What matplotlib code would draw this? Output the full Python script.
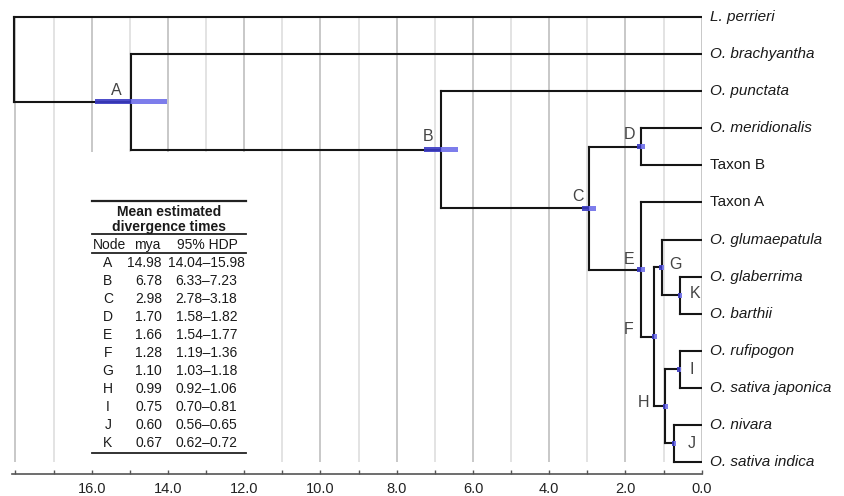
import matplotlib
matplotlib.use("Agg")
import matplotlib.pyplot as plt
from matplotlib.patches import Rectangle
from matplotlib.lines import Line2D
import matplotlib.transforms as mtransforms

plt.rcParams['font.family'] = ['Liberation Sans', 'DejaVu Sans']

# ---------------- data ----------------
leaves = ['L. perrieri', 'O. brachyantha', 'O. punctata', 'O. meridionalis',
          'Taxon B', 'Taxon A', 'O. glumaepatula', 'O. glaberrima', 'O. barthii',
          'O. rufipogon', 'O. sativa japonica', 'O. nivara', 'O. sativa indica']
leaf_italic = [True, True, True, True, False, False, True, True, True, True, True, True, True]

node_names = ['root', 'A', 'B', 'C', 'D', 'E', 'F', 'G', 'K', 'H', 'I', 'J']
node_children = [['L. perrieri', 'A'], ['O. brachyantha', 'B'], ['O. punctata', 'C'],
                 ['D', 'E'], ['O. meridionalis', 'Taxon B'], ['Taxon A', 'F'],
                 ['G', 'H'], ['O. glumaepatula', 'K'], ['O. glaberrima', 'O. barthii'],
                 ['I', 'J'], ['O. rufipogon', 'O. sativa japonica'],
                 ['O. nivara', 'O. sativa indica']]
# node ages (mya) as drawn in the tree
node_age = [18.03, 14.98, 6.85, 2.95, 1.59, 1.58, 1.24, 1.04, 0.56, 0.95, 0.58, 0.73]
# 95% HPD bars as drawn
hpd_low = [None, 14.02, 6.40, 2.77, 1.50, 1.49, 1.18, 0.98, 0.51, 0.88, 0.54, 0.68]
hpd_high = [None, 15.90, 7.29, 3.15, 1.71, 1.70, 1.30, 1.12, 0.61, 1.02, 0.64, 0.79]

# table
table_title = ['Mean estimated', 'divergence times']
table_header = ['Node', 'mya', '95% HDP']
table_nodes = ['A', 'B', 'C', 'D', 'E', 'F', 'G', 'H', 'I', 'J', 'K']
table_mya = ['14.98', '6.78', '2.98', '1.70', '1.66', '1.28', '1.10', '0.99', '0.75', '0.60', '0.67']
table_hpd = ['14.04\u201315.98', '6.33\u20137.23', '2.78\u20133.18', '1.58\u20131.82',
             '1.54\u20131.77', '1.19\u20131.36', '1.03\u20131.18', '0.92\u20131.06',
             '0.70\u20130.81', '0.56\u20130.65', '0.62\u20130.72']

major_ticks = [18, 16, 14, 12, 10, 8, 6, 4, 2, 0]
major_labels = ['', '16.0', '14.0', '12.0', '10.0', '8.0', '6.0', '4.0', '2.0', '0.0']
minor_ticks = [17, 15, 13, 11, 9, 7, 5, 3, 1]

# ---------------- figure ----------------
W, H = 844, 496
fig = plt.figure(figsize=(W / 100, H / 100), dpi=100)
ax = fig.add_axes([12 / W, 22 / H, 689.7 / W, 474 / H])
ax.set_xlim(18.09, 0)
ax.set_ylim(12.323, -0.458)

# pixel transform (origin top-left of figure)
ptrans = mtransforms.Affine2D().scale(1 / W, -1 / H).translate(0, 1) + fig.transFigure

# gridlines
n_leaf = len(leaves)
ax.vlines(major_ticks, 0, n_leaf - 1, color='#c4c4c4', lw=1.3, zorder=0)
ax.vlines(minor_ticks, 0, n_leaf - 1, color='#e0e0e0', lw=1.3, zorder=0)

# table background
ax.add_patch(Rectangle((62, 468), 216, -316, transform=ptrans, facecolor='white',
                       edgecolor='none', zorder=1))

# positions
ypos = {name: i for i, name in enumerate(leaves)}
xpos = {name: 0.0 for name in leaves}
info = dict(zip(node_names, zip(node_children, node_age)))


def place(name):
    if name in ypos:
        return ypos[name]
    ch, age = info[name]
    ys = [place(c) for c in ch]
    ypos[name] = sum(ys) / len(ys)
    xpos[name] = age
    return ypos[name]


place('root')

lc = '#151515'
lw = 1.5
for name, ch, age in zip(node_names, node_children, node_age):
    ys = [ypos[c] for c in ch]
    ax.plot([age, age], [min(ys), max(ys)], color=lc, lw=lw, zorder=2,
            solid_capstyle='projecting')
    for c in ch:
        ax.plot([age, xpos[c]], [ypos[c], ypos[c]], color=lc, lw=lw, zorder=2,
                solid_capstyle='projecting')

# HPD bars
bh = 0.14
for name, lo, hi in zip(node_names, hpd_low, hpd_high):
    if lo is None:
        continue
    x, y = xpos[name], ypos[name]
    ax.add_patch(Rectangle((x, y - bh / 2), hi - x, bh, facecolor='#3a3ac4',
                           edgecolor='none', alpha=0.9, zorder=3))
    ax.add_patch(Rectangle((lo, y - bh / 2), x - lo, bh, facecolor='#7676ea',
                           edgecolor='none', alpha=0.95, zorder=3))

# node letters (offset pixels from node)
label_offsets = {'A': (-14, 11), 'B': (-12, 13), 'C': (-11, 12), 'D': (-12, 12),
                 'E': (-12, 10), 'F': (-26, 7), 'G': (13, 3), 'H': (-22, 4),
                 'I': (12, 0), 'J': (18, 0), 'K': (15, 2)}
for name, off in label_offsets.items():
    ax.annotate(name, (xpos[name], ypos[name]), xytext=off, textcoords='offset pixels',
                ha='center', va='center', fontsize=11.5, color='#444444', zorder=4)

# leaf labels
for name, it in zip(leaves, leaf_italic):
    ax.annotate(name, (0, ypos[name]), xytext=(8, 0), textcoords='offset pixels',
                ha='left', va='center', fontsize=11, color='#1a1a1a',
                style='italic' if it else 'normal', annotation_clip=False)

# axis
for s in ['left', 'top', 'right']:
    ax.spines[s].set_visible(False)
ax.spines['bottom'].set_color('#555555')
ax.spines['bottom'].set_linewidth(1.2)
ax.set_yticks([])
ax.set_xticks(major_ticks)
ax.set_xticklabels(major_labels)
ax.set_xticks(minor_ticks, minor=True)
ax.tick_params(axis='x', which='both', direction='in', length=3, width=1,
               color='#555555', labelsize=10.5, labelcolor='#222222', pad=5.5)

# table
tc = '#1a1a1a'
def hline(y, x0=92, x1=246, w=1.3):
    fig.add_artist(Line2D([x0, x1], [y, y], transform=ptrans, color='#222222', lw=w))

hline(201, w=1.6)
fig.text(169, 212, table_title[0], transform=ptrans, ha='center', va='center',
         fontsize=10, fontweight='bold', color=tc)
fig.text(169, 227, table_title[1], transform=ptrans, ha='center', va='center',
         fontsize=10, fontweight='bold', color=tc)
hline(234)
fig.text(109, 245, table_header[0], transform=ptrans, ha='center', va='center', fontsize=10, color=tc)
fig.text(147, 245, table_header[1], transform=ptrans, ha='center', va='center', fontsize=10, color=tc)
fig.text(207, 245, table_header[2], transform=ptrans, ha='center', va='center', fontsize=10, color=tc)
hline(253)
for i, (n, m, h) in enumerate(zip(table_nodes, table_mya, table_hpd)):
    y = 263 + 18.0 * i
    fig.text(108, y, n, transform=ptrans, ha='center', va='center', fontsize=10, color=tc)
    fig.text(162, y, m, transform=ptrans, ha='right', va='center', fontsize=10, color=tc)
    fig.text(206.5, y, h, transform=ptrans, ha='center', va='center', fontsize=10, color=tc)
hline(453)

fig.savefig('out.png', dpi=100)
